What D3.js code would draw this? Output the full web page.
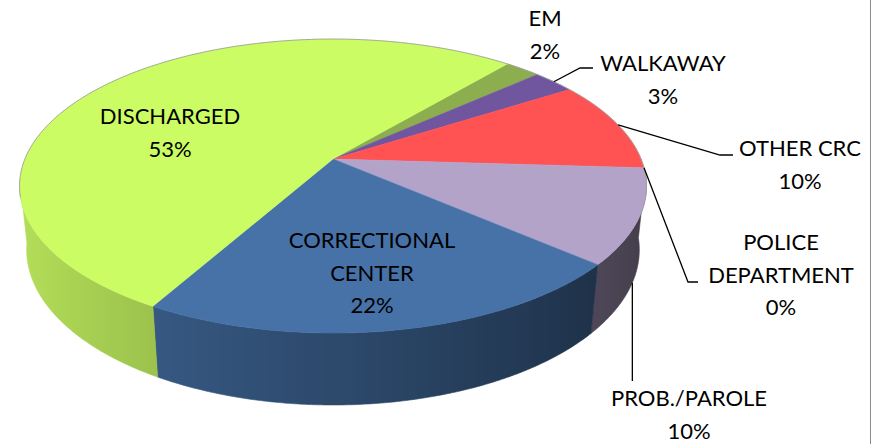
<!DOCTYPE html>
<html>
<head>
<meta charset="utf-8">
<script src="https://cdn.jsdelivr.net/npm/d3@7"></script>
<style>
  html, body { margin: 0; padding: 0; background: #fff; }
  svg { display: block; }
  .lbl { font-family: Lato, "Open Sans", sans-serif; font-size: 22px; fill: #000; }
  .leader { fill: none; stroke: #000; stroke-width: 1.3; }
</style>
</head>
<body>
<svg id="chart" width="875" height="444"></svg>
<script>
// data, clockwise from the EM slice
const categories = ["EM", "WALKAWAY", "OTHER CRC", "POLICE DEPARTMENT", "PROB./PAROLE", "CORRECTIONAL CENTER", "DISCHARGED"];
const values = [2.2, 2.6, 10.0, 0, 10.4, 21.8, 53.0];
const colors = ["#8CAE4E", "#70569F", "#FF5252", "#3FA9C4", "#B4A3C9", "#4672A8", "#CBFC64"];
const labelLines = [["EM"], ["WALKAWAY"], ["OTHER CRC"], ["POLICE", "DEPARTMENT"], ["PROB./PAROLE"], ["CORRECTIONAL", "CENTER"], ["DISCHARGED"]];

// label layout (centre of first line) and leader elbows
const labelPos = [
  { x: 545, y: 18 },
  { x: 663, y: 63 },
  { x: 800, y: 148 },
  { x: 781, y: 242 },
  { x: 689, y: 398 },
  { x: 372, y: 240 },
  { x: 170, y: 116 }
];
const leaders = {
  1: { from: "rim", pts: [[580, 68], [593, 68]] },
  2: { from: "rim", pts: [[720, 155], [733, 155]] },
  3: { from: "rim", pts: [[688, 282], [698, 282]] },
  4: { from: "wall", pts: [[null, 381]] }
};

const svg = d3.select("#chart");
const defs = svg.append("defs");

// perspective view of a flat cylinder (radius 1, thickness h)
const view = { cx: 333, cy: 159, f: 1485, D: 4.82, s: 0.461, c: 0.887, h: 0.235 };

function proj(a, r, z) {
  const X = r * Math.sin(a), Y = r * Math.cos(a);
  const v = Y * view.s + z * view.c;
  const d = view.D + Y * view.c - z * view.s;
  return [view.cx + view.f * X / d, view.cy - view.f * v / d];
}

const total = d3.sum(values);
const rad = Math.PI / 180;
const pie = d3.pie().sort(null).value((d) => d)
  .startAngle(40.2 * rad)
  .endAngle((40.2 + 360) * rad);
const arcs = pie(values).map((a, i) => ({ ...a, i }));

function shade(hex, a) {
  const k = 0.62 + 0.27 * Math.cos(a - 265 * rad);
  const c = d3.rgb(hex);
  return d3.rgb(c.r * k, c.g * k, c.b * k).formatHex();
}

// front part of the outer wall, one path per slice with a horizontal gradient
const wallLo = 96 * rad, wallHi = 262 * rad;
const walls = [];
arcs.forEach((a) => {
  const a0 = Math.max(a.startAngle, wallLo);
  const a1 = Math.min(a.endAngle, wallHi);
  if (a1 <= a0) return;
  const n = Math.max(2, Math.ceil((a1 - a0) / (0.5 * rad)));
  const angs = d3.range(n + 1).map((k) => a0 + (a1 - a0) * k / n);
  walls.push({ i: a.i, angs });
});

walls.forEach((w) => {
  const xs = w.angs.map((a) => proj(a, 1, 0)[0]);
  const xMin = d3.min(xs), xMax = d3.max(xs);
  const g = defs.append("linearGradient")
    .attr("id", "wall" + w.i)
    .attr("gradientUnits", "userSpaceOnUse")
    .attr("x1", xMin).attr("x2", xMax).attr("y1", 0).attr("y2", 0);
  const stops = w.angs.map((a, k) => ({ o: (xs[k] - xMin) / (xMax - xMin || 1), c: shade(colors[w.i], a) }))
    .sort((p, q) => p.o - q.o);
  g.selectAll("stop").data(stops).join("stop")
    .attr("offset", (d) => d.o)
    .attr("stop-color", (d) => d.c);
});

svg.append("g").attr("class", "walls")
  .selectAll("path")
  .data(walls)
  .join("path")
  .attr("d", (w) => {
    const top = w.angs.map((a) => proj(a, 1, 0));
    const bot = w.angs.slice().reverse().map((a) => proj(a, 1, -view.h));
    return "M" + top.concat(bot).join("L") + "Z";
  })
  .attr("fill", (w) => "url(#wall" + w.i + ")")
  .attr("stroke", (w) => "url(#wall" + w.i + ")")
  .attr("stroke-width", 0.6);

// top faces
function topPath(a) {
  const pts = [proj(0, 0, 0)];
  const n = Math.max(1, Math.ceil((a.endAngle - a.startAngle) / (0.5 * rad)));
  for (let k = 0; k <= n; k++) {
    pts.push(proj(a.startAngle + (a.endAngle - a.startAngle) * k / n, 1, 0));
  }
  return "M" + pts.join("L") + "Z";
}

svg.append("g").attr("class", "tops")
  .selectAll("path")
  .data(arcs.filter((a) => a.endAngle > a.startAngle))
  .join("path")
  .attr("d", topPath)
  .attr("fill", (d) => colors[d.i])
  .attr("stroke", (d) => colors[d.i])
  .attr("stroke-width", 0.5);

// faint rim on the far edge
const rimPts = d3.range(-105, 106, 1).map((deg) => proj(deg * rad, 1, 0));
svg.append("path")
  .attr("d", d3.line()(rimPts))
  .attr("fill", "none")
  .attr("stroke", "#a0a0a0")
  .attr("stroke-width", 0.9);

// leader lines
const leaderG = svg.append("g").attr("class", "leaders");
Object.keys(leaders).forEach((key) => {
  const i = +key;
  const a = arcs[i];
  const mid = (a.startAngle + a.endAngle) / 2;
  const L = leaders[key];
  const start = L.from === "rim" ? proj(mid, 1, 0) : proj(mid, 1, -view.h);
  const pts = L.pts.map((p) => [p[0] == null ? start[0] : p[0], p[1]]);
  leaderG.append("path")
    .attr("class", "leader")
    .attr("d", d3.line()([start].concat(pts)));
});

// labels
const lblG = svg.append("g").attr("class", "labels");
arcs.forEach((a) => {
  const pos = labelPos[a.i];
  const lines = labelLines[a.i].concat([Math.round(values[a.i] / total * 100) + "%"]);
  const t = lblG.append("text").attr("class", "lbl").attr("text-anchor", "middle");
  lines.forEach((s, j) => {
    t.append("tspan").attr("x", pos.x).attr("y", pos.y + 8 + j * 32.5).text(s);
  });
});

// chart area border on the right
svg.append("line")
  .attr("x1", 870.5).attr("x2", 870.5).attr("y1", 0).attr("y2", 444)
  .attr("stroke", "#8c8c8c").attr("stroke-width", 1);
</script>
</body>
</html>
